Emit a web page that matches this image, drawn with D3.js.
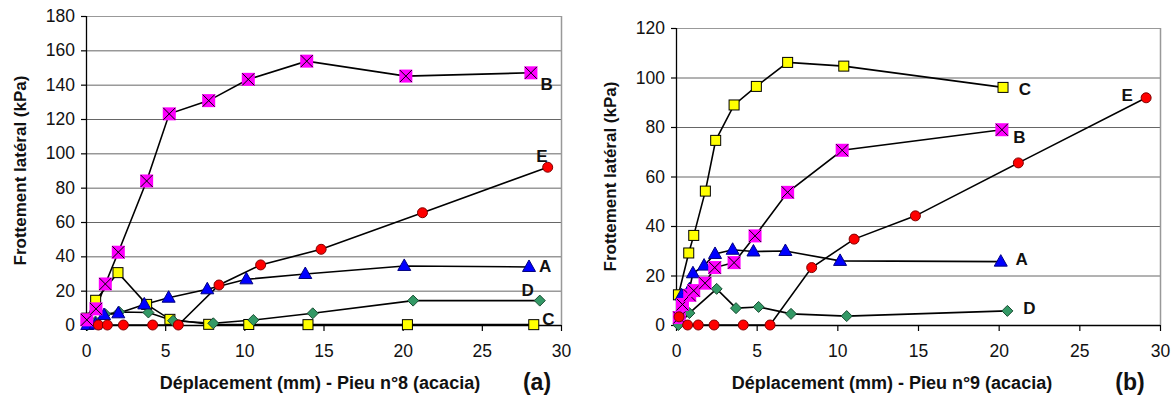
<!DOCTYPE html>
<html><head><meta charset="utf-8">
<script src="https://cdn.jsdelivr.net/npm/d3@7/dist/d3.min.js"></script>
<style>body{margin:0;background:#fff}svg{display:block}text{font-family:"Liberation Sans",Arial,sans-serif}</style>
</head><body><svg id="c" width="1174" height="398"></svg>
<script>
// ---- data: chart (a) Pieu n°8 ----
const aA_x=[0.08,0.6,1.14,2.04,3.68,5.22,7.66,10.13,13.85,20.1,27.98];
const aA_y=[0,0.3,5.8,6.8,12,15.9,20.8,26.6,29.7,34.4,33.8];
const aB_x=[0.05,0.63,1.22,2.04,3.83,5.26,7.75,10.25,13.94,20.2,28.1];
const aB_y=[3,9.4,23.9,42.4,83.9,123,130.7,143.1,153.7,145,146.9];
const aC_x=[0.05,0.61,2.02,3.83,5.3,7.75,10.28,14.02,20.3,28.28];
const aC_y=[4,14.4,30.5,12,3.3,0.4,0.3,0.2,0.2,0.2];
const aD_x=[0.1,0.6,1.22,2.1,3.94,5.5,8.04,10.57,14.32,20.66,28.66];
const aD_y=[0,2,6.3,7.6,7.3,2.5,1,2.9,6.8,14.2,14.2];
const aE_x=[0.78,1.35,2.36,4.21,5.83,8.4,11.03,14.85,21.25,29.16];
const aE_y=[0,0,0,0,0,23.3,35,44.1,65.4,91.9];
// ---- data: chart (b) Pieu n°9 ----
const bA_x=[0.35,0.83,1.05,1.74,2.42,3.51,4.8,6.78,10.17,20.13];
const bA_y=[12,14.4,20.9,24,28.7,30.4,29.7,29.9,25.9,25.6];
const bB_x=[0.2,0.4,0.85,1.1,1.8,2.4,3.6,4.9,6.92,10.3,20.2];
const bB_y=[3,8.3,12,13.9,16.9,23.2,25.2,36,53.6,70.6,78.9];
const bC_x=[0.15,0.79,1.1,1.82,2.46,3.6,4.98,6.92,10.4,20.27];
const bC_y=[12.2,29.1,36.2,54.1,74.6,88.9,96.4,106.1,104.6,96];
const bD_x=[0.15,0.83,2.52,3.72,5.12,7.13,10.58,20.54];
const bD_y=[0,4.8,14.6,6.8,7.3,4.5,3.6,5.7];
const bE_x=[0.19,0.72,1.38,2.36,4.17,5.83,8.41,11.04,14.84,21.22,29.14];
const bE_y=[3.3,0,0,0,0,0,23.2,34.7,44.1,65.5,91.8];
// ---- ticks & labels ----
const xTicks=[0,5,10,15,20,25,30];
const aYTicks=[0,20,40,60,80,100,120,140,160,180];
const bYTicks=[0,20,40,60,80,100,120];
const yTitle="Frottement latéral (kPa)";
const aXTitle="Déplacement (mm) - Pieu n°8 (acacia)";
const bXTitle="Déplacement (mm) - Pieu n°9 (acacia)";
const seriesNames=["C","D","A","B","E"];
const aLabelPos={B:[29.1,140.4],E:[28.8,98.6],A:[29.0,34.5],D:[27.9,20.7],C:[29.2,3.5]};
const bLabelPos={C:[21.63,95.6],B:[21.28,76.1],E:[27.97,92.9],A:[21.43,26.7],D:[21.9,6.9]};

const svg=d3.select("#c");
const styles={
  A:{sym:"tri",fill:"#0000FF",stroke:"#000080"},
  B:{sym:"sqx",fill:"#FF00FF",stroke:"none"},
  C:{sym:"sq",fill:"#FFFF00",stroke:"#000"},
  D:{sym:"dia",fill:"#339966",stroke:"#1a4d33"},
  E:{sym:"circ",fill:"#FF0000",stroke:"#800000"}
};

function chart(cfg){
  const g=svg.append("g");
  const x=d3.scaleLinear().domain([0,30]).range([cfg.x0,cfg.x1]);
  const y=d3.scaleLinear().domain([0,cfg.ymax]).range([cfg.y0,cfg.y1]);
  g.append("g").selectAll("line").data(cfg.yTicks.filter(d=>d>0)).join("line")
    .attr("x1",cfg.x0).attr("x2",cfg.x1).attr("y1",d=>y(d)+0.5).attr("y2",d=>y(d)+0.5)
    .attr("stroke",d=>d===cfg.ymax?"#999":"#666").attr("stroke-width",1);
  g.append("line").attr("x1",cfg.x1+0.5).attr("x2",cfg.x1+0.5).attr("y1",cfg.y1).attr("y2",cfg.y0)
    .attr("stroke","#999").attr("stroke-width",1.5);
  const ya=g.append("g").attr("transform",`translate(${cfg.x0},0)`)
    .call(d3.axisLeft(y).tickValues(cfg.yTicks).tickSize(5).tickPadding(6).tickFormat(d3.format("d")));
  const xa=g.append("g").attr("transform",`translate(0,${cfg.y0})`)
    .call(d3.axisBottom(x).tickValues(xTicks).tickSize(6).tickPadding(14).tickFormat(d3.format("d")));
  [ya,xa].forEach(a=>{a.select(".domain").attr("stroke","#000").attr("stroke-width",1.3);
    a.selectAll(".tick line").attr("stroke","#000").attr("stroke-width",1.2);
    a.selectAll(".tick text").attr("fill","#111").style("font-size","17.5px").style("font-family","'Liberation Sans',Arial,sans-serif");});
  ya.select(".domain").attr("d",`M0.5,${cfg.y1}V${cfg.y0}`);
  xa.select(".domain").attr("d",`M${cfg.x0},0.5H${cfg.x1}`);
  const line=d3.line().x(d=>x(d[0])).y(d=>y(d[1]));
  seriesNames.forEach(n=>{
    const pts=cfg.data[n][0].map((v,i)=>[v,cfg.data[n][1][i]]);
    g.append("path").attr("d",line(pts)).attr("fill","none").attr("stroke","#000").attr("stroke-width",1.6);
  });
  seriesNames.forEach(n=>{
    const pts=cfg.data[n][0].map((v,i)=>[v,cfg.data[n][1][i]]);
    const st=styles[n];
    const mg=g.append("g");
    pts.forEach(p=>{
      const cx=x(p[0]),cy=y(p[1]);
      const m=mg.append("g").attr("transform",`translate(${cx},${cy})`);
      if(st.sym==="sq"){m.append("rect").attr("x",-5).attr("y",-5).attr("width",10).attr("height",10).attr("fill",st.fill).attr("stroke",st.stroke).attr("stroke-width",1);}
      else if(st.sym==="sqx"){m.append("rect").attr("x",-6.5).attr("y",-6.5).attr("width",13).attr("height",13).attr("fill",st.fill);
        m.append("path").attr("d","M-6,-6L6,6M6,-6L-6,6").attr("stroke","#000").attr("stroke-width",1);}
      else if(st.sym==="circ"){m.append("circle").attr("r",5).attr("fill",st.fill).attr("stroke",st.stroke).attr("stroke-width",1);}
      else if(st.sym==="tri"){m.append("path").attr("d","M0,-7L6.5,4.5L-6.5,4.5Z").attr("fill",st.fill).attr("stroke",st.stroke).attr("stroke-width",1);}
      else if(st.sym==="dia"){m.append("path").attr("d","M0,-5.5L5.5,0L0,5.5L-5.5,0Z").attr("fill",st.fill).attr("stroke",st.stroke).attr("stroke-width",1);}
    });
  });
  Object.keys(cfg.labels).forEach(n=>{
    const p=cfg.labels[n];
    g.append("text").attr("x",x(p[0])).attr("y",y(p[1])).attr("dy","0.36em").attr("text-anchor","middle")
      .style("font-weight","bold").style("font-size","17px").attr("fill","#111").text(n);
  });
  g.append("text").attr("transform",`translate(${cfg.yTitleX},${(cfg.y0+cfg.y1)/2}) rotate(-90)`)
    .attr("text-anchor","middle").attr("dy","0.36em").style("font-weight","bold").style("font-size","17px").attr("fill","#111").text(yTitle);
  g.append("text").attr("x",cfg.xTitleX).attr("y",389).attr("text-anchor","middle")
    .style("font-weight","bold").style("font-size","18px").attr("fill","#111").text(cfg.xTitle);
  g.append("text").attr("x",cfg.tagX).attr("y",390).attr("text-anchor","middle")
    .style("font-weight","bold").style("font-size","23px").attr("fill","#111").text(cfg.tag);
}

chart({x0:86,x1:561,y0:325,y1:16,ymax:180,yTicks:aYTicks,
  data:{A:[aA_x,aA_y],B:[aB_x,aB_y],C:[aC_x,aC_y],D:[aD_x,aD_y],E:[aE_x,aE_y]},
  labels:aLabelPos,yTitleX:20,xTitle:aXTitle,xTitleX:320,tag:"(a)",tagX:537});
chart({x0:676,x1:1160,y0:325,y1:28,ymax:120,yTicks:bYTicks,
  data:{A:[bA_x,bA_y],B:[bB_x,bB_y],C:[bC_x,bC_y],D:[bD_x,bD_y],E:[bE_x,bE_y]},
  labels:bLabelPos,yTitleX:610,xTitle:bXTitle,xTitleX:892,tag:"(b)",tagX:1130});
</script></body></html>
